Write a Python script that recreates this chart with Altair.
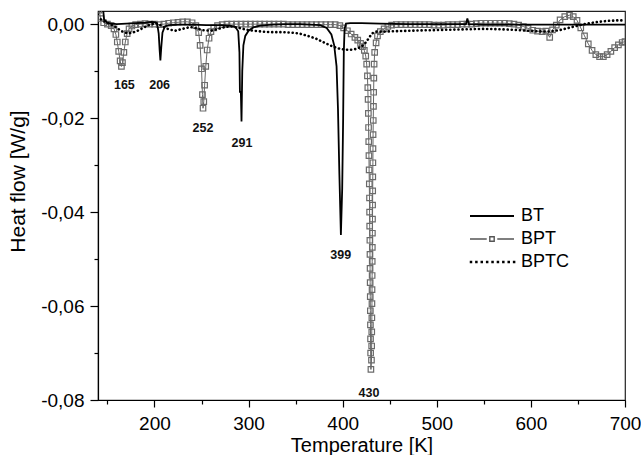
import altair as alt
import pandas as pd

# ---------------- data: (temperature K, heat flow W/g) ----------------
series_names = ["BT", "BPT", "BPTC"]

bt_points = [
    (145, 0.004), (146.5, 0.001), (150, 0.0002), (160, 0.0), (170, 0.0001), (180, 0.0002),
    (190, 0.0003), (197, 0.0005), (201, 0.0004), (203, 0.0), (204.5, -0.002), (205.5, -0.0055),
    (206.3, -0.0077), (207.2, -0.005), (208.5, -0.0018), (211, -0.0005), (215, -0.0002),
    (225, -0.0001), (240, -0.0001), (255, -0.0002), (270, -0.0002), (280, -0.0003),
    (286, -0.0006), (289, -0.0015), (290.3, -0.006), (290.8, -0.0144), (291.8, -0.0144),
    (292.5, -0.0207), (293.3, -0.0100), (294.5, -0.0045), (296.5, -0.0025), (300, -0.0014),
    (305, -0.0007), (312, -0.0003), (325, -0.0001), (340, 0.0), (355, 0.0), (366, -0.0001),
    (376, -0.0002), (383, -0.0008), (388, -0.0022), (391, -0.0045), (393.5, -0.009),
    (395, -0.018), (396.5, -0.032), (398.1, -0.0449), (399.5, -0.035), (400.5, -0.020),
    (401.2, -0.006), (402, -0.001), (403.5, 0.0001), (408, 0.0002), (420, 0.0002),
    (440, 0.0001), (470, 0.0), (500, 0.0), (525, 0.0), (531, 0.0), (532.5, 0.0012), (534, 0.0),
    (550, -0.0001), (580, -0.0001), (620, -0.0001), (660, -0.0001), (700, -0.0001),
]

bpt_points = [
    (141, 0.0030), (143, 0.0012), (146, 0.0003), (150, 0.0), (154, -0.0003), (157, -0.0010),
    (159, -0.0022), (160.5, -0.0038), (162, -0.0058), (163.5, -0.0078), (164.9, -0.0090),
    (166, -0.0082), (167.5, -0.0060), (169, -0.0038), (171, -0.0020), (173, -0.0010),
    (176, -0.0004), (180, -0.0001), (185, 0.0), (190, 0.0001), (195, 0.0), (200, 0.0),
    (205, -0.0001), (210, 0.0), (215, 0.0002), (220, 0.0003), (225, 0.0004), (230, 0.0005),
    (235, 0.0005), (240, 0.0003), (244, -0.0003), (247, -0.0018), (248.5, -0.0045),
    (250, -0.0095), (251, -0.0150), (251.6, -0.0179), (252.4, -0.0165), (253.3, -0.0130),
    (254.5, -0.0090), (256, -0.0055), (258, -0.0030), (260, -0.0016), (263, -0.0008),
    (267, -0.0003), (272, -0.0001), (277, 0.0), (282, 0.0), (287, 0.0), (292, 0.0), (297, 0.0),
    (302, 0.0), (307, 0.0), (312, 0.0), (317, 0.0), (322, 0.0), (327, 0.0), (332, 0.0),
    (337, 0.0), (342, -0.0001), (347, -0.0001), (352, -0.0001), (357, -0.0001), (362, -0.0001),
    (367, -0.0001), (372, -0.0001), (377, -0.0001), (382, -0.0001), (387, -0.0001),
    (392, -0.0001), (397, -0.0003), (401, -0.0008), (405, -0.0014), (409, -0.0021),
    (413, -0.0028), (416, -0.0034), (419, -0.0041), (421, -0.0048), (423, -0.0056),
    (424.5, -0.0068), (425.5, -0.0085), (426.3, -0.0110), (426.7, -0.0135),
    (427.0, -0.0160), (427.3, -0.0190), (427.5, -0.0220), (427.7, -0.0250), (427.9, -0.0280),
    (428.1, -0.0310), (428.3, -0.0340), (428.5, -0.0370), (428.6, -0.0400), (428.7, -0.0430),
    (428.9, -0.0460), (429.0, -0.0490), (429.1, -0.0520), (429.2, -0.0550), (429.3, -0.0580),
    (429.4, -0.0610), (429.5, -0.0640), (429.6, -0.0670), (429.7, -0.0700), (430.0, -0.0735),
    (430.6, -0.0715), (430.8, -0.0685), (430.9, -0.0655), (431.0, -0.0625), (431.1, -0.0595),
    (431.2, -0.0565), (431.3, -0.0535), (431.4, -0.0505), (431.5, -0.0475), (431.6, -0.0445),
    (431.7, -0.0415), (431.8, -0.0385), (431.9, -0.0355), (432.0, -0.0325), (432.1, -0.0295),
    (432.2, -0.0265), (432.3, -0.0235), (432.5, -0.0205), (432.7, -0.0175), (432.9, -0.0145),
    (433.1, -0.0115), (433.4, -0.0085), (434.0, -0.0060), (435.5, -0.0040), (437, -0.0025),
    (440, -0.0016), (444, -0.0010), (448, -0.0005), (452, -0.0002), (457, -0.0001),
    (462, -0.0001), (467, -0.0001), (472, -0.0001), (477, -0.0001), (482, -0.0001),
    (487, -0.0001), (492, -0.0001), (497, -0.0002), (502, -0.0002), (507, -0.0002),
    (512, -0.0001), (517, -0.0001), (522, -0.0001), (527, 0.0), (532, 0.0), (537, 0.0),
    (542, 0.0001), (547, 0.0002), (552, 0.0002), (557, 0.0002), (562, 0.0002), (567, 0.0002),
    (572, 0.0002), (577, 0.0001), (582, 0.0), (587, -0.0002), (592, -0.0005), (597, -0.0009),
    (602, -0.0013), (607, -0.0015), (612, -0.0016), (616, -0.0015), (620, -0.0028),
    (623, -0.0012), (627, -0.0002), (631, 0.0009), (636, 0.0016), (641, 0.0019), (645, 0.0016),
    (649, 0.0008), (653, -0.0008), (657, -0.0025), (661, -0.0042), (665, -0.0056),
    (669, -0.0065), (673, -0.0069), (677, -0.0069), (681, -0.0065), (685, -0.0058),
    (689, -0.0050), (693, -0.0044), (697, -0.0039), (700, -0.0037),
]

bptc_points = [
    (143, 0.0010), (150, 0.0003), (157, -0.0004), (165, -0.0015), (172, -0.0020),
    (180, -0.0016), (188, -0.0008), (195, -0.0001), (202, 0.0002), (208, -0.0004),
    (215, -0.0011), (222, -0.0014), (230, -0.0010), (238, -0.0006), (245, -0.0009),
    (252, -0.0013), (260, -0.0014), (268, -0.0010), (275, -0.0006), (282, -0.0005),
    (290, -0.0008), (298, -0.0012), (305, -0.0014), (315, -0.0016), (325, -0.0017),
    (335, -0.0017), (345, -0.0018), (354, -0.0020), (363, -0.0025), (372, -0.0031),
    (381, -0.0040), (390, -0.0048), (398, -0.0053), (407, -0.0055), (414, -0.0053),
    (420, -0.0048), (425, -0.0038), (428, -0.0029), (431, -0.0020), (435, -0.0016),
    (442, -0.0016), (455, -0.0015), (470, -0.0014), (490, -0.0013), (510, -0.0012),
    (530, -0.0011), (550, -0.0010), (570, -0.0011), (590, -0.0013), (605, -0.0015),
    (617, -0.0016), (630, -0.0013), (642, -0.0007), (652, -0.0002), (662, 0.0002),
    (672, 0.0005), (682, 0.0007), (692, 0.0008), (700, 0.0008),
]

peak_labels = ["165", "206", "252", "291", "399", "430"]
peak_label_temp = [168, 205.5, 251.6, 293, 398, 428]
peak_label_flow = [-0.0130, -0.0130, -0.0221, -0.0253, -0.0491, -0.0785]

x_ticks = [150, 200, 250, 300, 350, 400, 450, 500, 550, 600, 650, 700]
y_ticks = [0.0, -0.01, -0.02, -0.03, -0.04, -0.05, -0.06, -0.07, -0.08]

# ---------------- frames ----------------
def frame(points):
    return pd.DataFrame(points, columns=["T", "Q"])

bt = frame(bt_points)
bpt = frame(bpt_points)
bptc = frame(bptc_points)
labels = pd.DataFrame({"T": peak_label_temp, "Q": peak_label_flow, "txt": peak_labels})
legend_df = pd.DataFrame({"series": series_names})

FONT = "Liberation Sans"

xscale = alt.Scale(domain=[140, 700], nice=False, zero=False)
yscale = alt.Scale(domain=[-0.08, 0.0028], nice=False, zero=False)

xaxis = alt.Axis(
    values=x_ticks,
    labelExpr="round(datum.value) % 100 === 0 ? datum.label : ''",
    tickSize={"condition": {"test": "round(datum.value) % 100 === 0", "value": 7}, "value": 4},
    labelFont=FONT, labelFontSize=19, labelColor="black", labelPadding=7,
    labelFlush=False, labelOverlap=False,
    title="Temperature [K]", titleFont=FONT, titleFontSize=20, titleFontWeight="normal",
    titleColor="black", titleBaseline="alphabetic", titleY=51,
    domainColor="black", domainWidth=1.2, tickColor="black", tickWidth=1.2, grid=False,
)
yaxis = alt.Axis(
    values=y_ticks,
    labelExpr="abs(round(datum.value*100)) % 2 === 0 ? ((datum.value < -0.001 ? '-' : '') + replace(format(abs(datum.value), '.2f'), '.', ',')) : ''",
    tickSize={"condition": {"test": "abs(round(datum.value*100)) % 2 === 0", "value": 8}, "value": 4},
    labelFont=FONT, labelFontSize=19, labelColor="black", labelPadding=6,
    labelOverlap=False, labelFlush=False,
    title="Heat flow [W/g]", titleFont=FONT, titleFontSize=21, titleFontWeight="normal",
    titleColor="black", titleBaseline="alphabetic", titleX=-74, titleY=170,
    domainColor="black", domainWidth=1.2, tickColor="black", tickWidth=1.2, grid=False,
)

X = alt.X("T:Q", scale=xscale, axis=xaxis)
Y = alt.Y("Q:Q", scale=yscale, axis=yaxis)

bpt_line = alt.Chart(bpt).mark_line(color="#555555", strokeWidth=0.9, clip=True).encode(
    x=X, y=Y, order="T:Q")
bpt_pts = alt.Chart(bpt).mark_point(shape="square", filled=False, stroke="#6a6a6a",
                                    strokeWidth=1.2, size=30, opacity=1, clip=True).encode(x=X, y=Y)
bptc_line = alt.Chart(bptc).mark_line(color="black", strokeWidth=2.6, strokeDash=[0.1, 4.0],
                                      strokeCap="round", clip=True).encode(x=X, y=Y, order="T:Q")
bt_line = alt.Chart(bt).mark_line(color="black", strokeWidth=1.8, clip=True).encode(
    x=X, y=Y, order="T:Q")
txt = alt.Chart(labels).mark_text(font=FONT, fontWeight="bold", fontSize=12.5, color="#111111",
                                  baseline="middle", align="center").encode(x=X, y=Y, text="txt:N")

# legend symbols (custom paths)
dots = "".join(f"M{-0.98 + 0.245 * i:.3f},-0.03h0.05v0.06h-0.05z" for i in range(9))
leg_shapes = ["M-1,-0.018H1M-1,0.018H1",
              "M-1,0H-0.24M0.24,0H1M-0.1,-0.1H0.1V0.1H-0.1Z",
              dots]
leg_colors = ["black", "#555555", "black"]
leg = dict(title=None, orient="none", legendX=371, legendY=195, clipHeight=20, rowPadding=3,
           labelOffset=6, labelFont=FONT, labelFontSize=18, labelColor="black",
           symbolSize=1936, symbolStrokeWidth=1.4, symbolOpacity=1, padding=0)
legend_layer = alt.Chart(legend_df).mark_point(filled=False, opacity=0).encode(
    shape=alt.Shape("series:N", scale=alt.Scale(domain=series_names, range=leg_shapes),
                    legend=alt.Legend(**leg)),
    stroke=alt.Stroke("series:N", scale=alt.Scale(domain=series_names, range=leg_colors),
                      legend=alt.Legend(**leg)),
)

chart = alt.layer(bpt_line, bpt_pts, bptc_line, bt_line, txt, legend_layer).properties(
    width=527, height=389,
    padding={"left": 98, "top": 11, "right": 16, "bottom": 55},
    autosize=alt.AutoSizeParams(type="none"),
    background="white",
).configure_view(stroke="#222222", strokeWidth=1.2)

chart.save("out.html", embed_options={"renderer": "svg", "actions": False})
